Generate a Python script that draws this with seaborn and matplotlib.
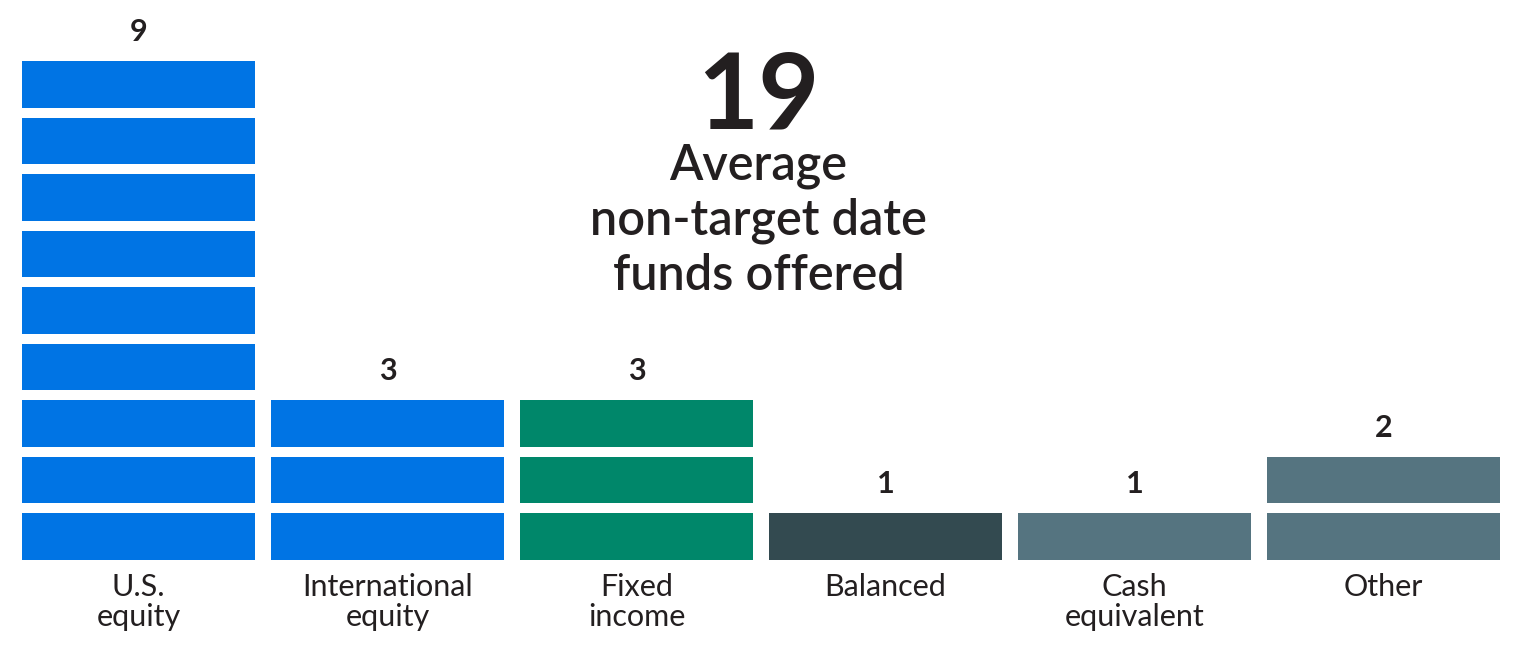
import numpy as np
import pandas as pd
import matplotlib
matplotlib.use("Agg")
import matplotlib.pyplot as plt
import seaborn as sns

# data
categories = ["U.S.\nequity", "International\nequity", "Fixed\nincome",
              "Balanced", "Cash\nequivalent", "Other"]
funds = [9, 3, 3, 1, 1, 2]
bar_colors = ["#0074E4", "#0074E4", "#00876A", "#334A50", "#557480", "#557480"]
total_funds = 19
headline = "Average\nnon-target date\nfunds offered"

sns.set_theme(style="white")
plt.rcParams['font.family'] = ['Lato', 'DejaVu Sans']
ink = "#231F20"

df = pd.DataFrame({"category": categories, "funds": funds})
palette = dict(zip(categories, bar_colors))

fig = plt.figure(figsize=(15.2, 6.6), dpi=100)
ax = fig.add_axes([0, 0, 1, 1])

block = 0.83  # share of one unit filled, rest is the white gap
for level in range(max(funds)):
    layer = df[df["funds"] > level].copy()
    layer["h"] = block
    sns.barplot(data=layer, x="category", y="h", hue="category",
                order=categories, hue_order=categories, palette=palette,
                bottom=level, width=0.936, saturation=1, legend=False,
                linewidth=0, ax=ax)

# value labels
for i, v in enumerate(funds):
    ax.text(i, v - 1 + block + 0.26, str(v), ha="center", va="bottom",
            fontsize=22, fontweight="bold", color=ink)

# category labels
for i, c in enumerate(categories):
    ax.text(i, -0.23, c, ha="center", va="top", fontsize=22,
            fontweight="normal", color=ink, linespacing=1.1)

# headline in the middle
ax.text(2.49, 9.02, str(total_funds), ha="center", va="top", fontsize=76,
        fontweight="bold", color=ink)
ax.text(2.49, 7.38, headline, ha="center", va="top", fontsize=35,
        fontweight="semibold", color=ink, linespacing=1.24)

ax.set_xlim(-0.556, 5.548)
ax.set_ylim(-1.77, 9.91)
ax.set_axis_off()

plt.savefig("out.png", dpi=100)
